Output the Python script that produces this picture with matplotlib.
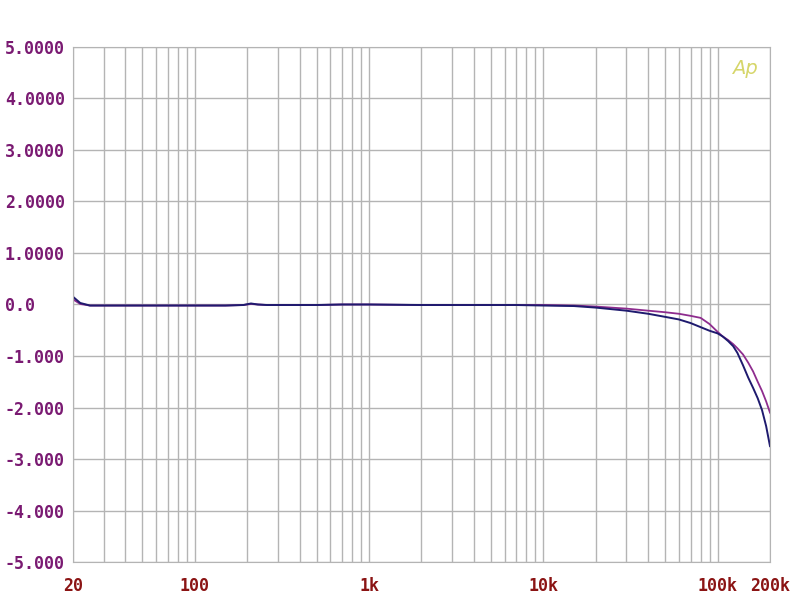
import numpy as np
import matplotlib.pyplot as plt
from matplotlib.ticker import FixedLocator, LogLocator, NullFormatter

# frequency response, two channels (dB vs Hz)
freq = [20, 22, 25, 30, 40, 50, 70, 100, 150, 190, 210, 230, 260, 300, 500, 700,
        1000, 2000, 3000, 5000, 7000, 10000, 15000, 20000, 30000, 40000, 50000,
        60000, 70000, 80000, 90000, 100000, 107000, 115000, 123000, 130000,
        140000, 150000, 160000, 170000, 180000, 190000, 200000]
ch_blue = [0.15, 0.03, -0.02, -0.02, -0.02, -0.02, -0.02, -0.02, -0.02, -0.01,
           0.02, 0.0, -0.01, -0.01, -0.01, 0.0, 0.0, -0.01, -0.01, -0.01, -0.01,
           -0.02, -0.03, -0.06, -0.12, -0.18, -0.24, -0.29, -0.36, -0.44, -0.51,
           -0.56, -0.62, -0.71, -0.81, -0.94, -1.18, -1.42, -1.62, -1.82, -2.05,
           -2.36, -2.75]
ch_purple = [0.10, 0.01, -0.02, -0.02, -0.02, -0.02, -0.02, -0.02, -0.02, -0.01,
             0.01, 0.0, -0.01, -0.01, -0.01, 0.0, 0.0, -0.01, -0.01, -0.01, -0.01,
             -0.01, -0.02, -0.04, -0.08, -0.12, -0.15, -0.18, -0.22, -0.26, -0.38,
             -0.53, -0.62, -0.69, -0.77, -0.85, -0.97, -1.13, -1.30, -1.50, -1.68,
             -1.88, -2.10]

y_ticks = [5, 4, 3, 2, 1, 0, -1, -2, -3, -4, -5]
y_labels = ['5.0000', '4.0000', '3.0000', '2.0000', '1.0000', '0.0',
            '-1.000', '-2.000', '-3.000', '-4.000', '-5.000']
x_ticks = [20, 100, 1000, 10000, 100000, 200000]
x_labels = ['20', '100', '1k', '10k', '100k', '200k']

grid_col = '#b4b4b4'

fig = plt.figure(figsize=(8, 6), dpi=100)
ax = fig.add_axes([0.09125, 0.0633, 0.87125, 0.8584])

ax.plot(freq, ch_purple, color='#8e2c8e', lw=1.3)
ax.plot(freq, ch_blue, color='#1e1a6e', lw=1.4)

ax.set_xscale('log')
ax.set_xlim(20, 200000)
ax.set_ylim(-5, 5)

ax.xaxis.set_major_locator(FixedLocator(x_ticks))
ax.set_xticklabels(x_labels)
ax.xaxis.set_minor_locator(LogLocator(base=10, subs=np.arange(2, 10)))
ax.xaxis.set_minor_formatter(NullFormatter())
ax.set_yticks(y_ticks)
ax.set_yticklabels(y_labels)

ax.grid(True, which='both', color=grid_col, lw=1.0)
for s in ax.spines.values():
    s.set_color(grid_col)

ax.tick_params(axis='both', which='both', length=0)
ax.tick_params(axis='y', pad=49)
ax.tick_params(axis='x', pad=11)
for lab in ax.get_yticklabels():
    lab.set_horizontalalignment('left')
    lab.set_fontfamily('DejaVu Sans Mono')
    lab.set_fontweight('bold')
    lab.set_fontsize(12)
    lab.set_color('#7a1a72')
for lab in ax.get_xticklabels():
    lab.set_fontfamily('DejaVu Sans Mono')
    lab.set_fontweight('bold')
    lab.set_fontsize(12)
    lab.set_color('#8b1414')

fig.text(745 / 800, 1 - 68 / 600, 'Ap', color='#d6d66a', fontsize=14,
         style='italic', ha='center', va='center')

fig.savefig('out.png', dpi=100)
